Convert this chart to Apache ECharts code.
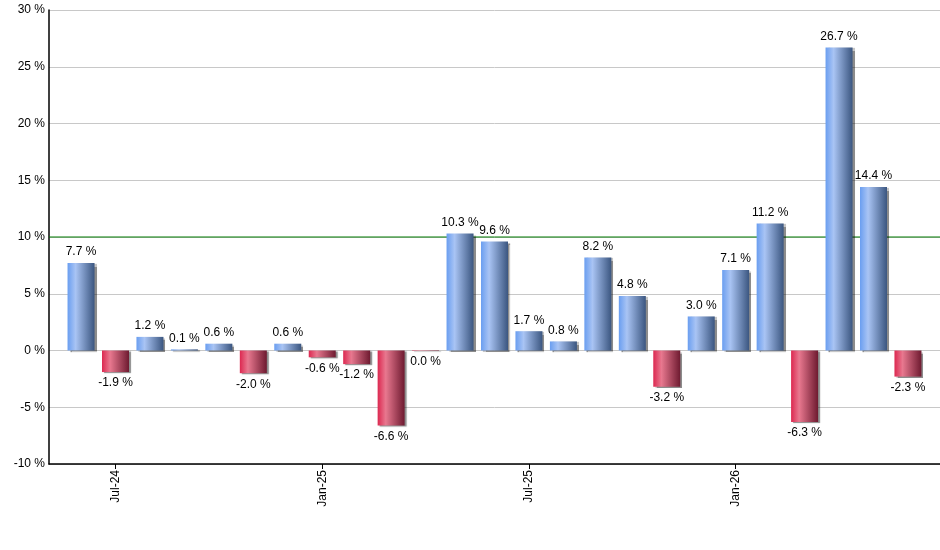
<!DOCTYPE html>
<html lang="en">
<head>
    <meta charset="UTF-8">
    <title>Monthly returns</title>
    <script src="https://cdn.jsdelivr.net/npm/echarts@6/dist/echarts.min.js"></script>
</head>
<body>
<div id="main" style="width: 940px;height:550px;"></div>

<script type="text/javascript">
    // months, first bar is Jun-24
    var months = ['Jun-24', 'Jul-24', 'Aug-24', 'Sep-24', 'Oct-24', 'Nov-24', 'Dec-24', 'Jan-25', 'Feb-25',
        'Mar-25', 'Apr-25', 'May-25', 'Jun-25', 'Jul-25', 'Aug-25', 'Sep-25', 'Oct-25', 'Nov-25', 'Dec-25',
        'Jan-26', 'Feb-26', 'Mar-26', 'Apr-26', 'May-26', 'Jun-26'];
    var returns = [7.7, -1.9, 1.2, 0.1, 0.6, -2.0, 0.6, -0.6, -1.2, -6.6, -0.04, 10.3, 9.6, 1.7, 0.8, 8.2,
        4.8, -3.2, 3.0, 7.1, 11.2, -6.3, 26.7, 14.4, -2.3];
    var labelIdx = [1, 7, 13, 19];
    var refLine = 10;

    var blue = new echarts.graphic.LinearGradient(0, 0, 1, 0, [
        {offset: 0, color: '#6a9ef0'},
        {offset: 0.3, color: '#a9c4f4'},
        {offset: 1, color: '#3b5680'}
    ]);
    var red = new echarts.graphic.LinearGradient(0, 0, 1, 0, [
        {offset: 0, color: '#dc2850'},
        {offset: 0.3, color: '#e8788f'},
        {offset: 1, color: '#6e1a30'}
    ]);

    var data = returns.map(function (v, i) {
        return {
            value: [i, v],
            itemStyle: {color: v < 0 ? red : blue},
            label: {position: v < 0 ? 'bottom' : 'top'}
        };
    });

    var myChart = echarts.init(document.getElementById('main'));
    var option = {
        animation: false,
        textStyle: {fontFamily: 'Liberation Sans, Arial, sans-serif'},
        grid: {left: 49, right: 0, top: 10, bottom: 86},
        xAxis: {
            type: 'value',
            min: -0.93,
            max: 24.93,
            splitLine: {show: false},
            axisLine: {onZero: false, lineStyle: {color: '#000', width: 1.5}},
            axisTick: {show: true, length: 5, customValues: labelIdx, lineStyle: {color: '#000'}},
            axisLabel: {
                customValues: labelIdx,
                rotate: 90,
                color: '#000',
                fontSize: 12,
                margin: 6,
                formatter: function (v) {
                    return months[Math.round(v)];
                }
            }
        },
        yAxis: {
            type: 'value',
            min: -10,
            max: 30,
            interval: 5,
            axisLine: {show: true, onZero: false, lineStyle: {color: '#000', width: 1.5}},
            axisTick: {show: false},
            axisLabel: {color: '#000', fontSize: 12, margin: 4, formatter: '{value} %'},
            splitLine: {lineStyle: {color: '#c8c8c8'}}
        },
        series: [
            {
                type: 'bar',
                barWidth: 27,
                z: 3,
                data: data,
                itemStyle: {
                    shadowColor: 'rgba(0,0,0,0.45)',
                    shadowOffsetX: 2,
                    shadowOffsetY: 1,
                    shadowBlur: 1
                },
                label: {
                    show: true,
                    color: '#000',
                    fontSize: 12,
                    distance: 5,
                    formatter: function (p) {
                        var s = p.value[1].toFixed(1);
                        if (s === '-0.0') s = '0.0';
                        return s + ' %';
                    }
                }
            },
            {
                // green reference line at 10 %, behind the bars
                type: 'line',
                data: [[-0.93, refLine], [24.93, refLine]],
                silent: true,
                symbol: 'none',
                z: 1,
                lineStyle: {color: '#007a00', width: 1},
                itemStyle: {color: '#007a00'}
            }
        ]
    };
    myChart.setOption(option);
</script>
</body>
<style type="text/css">
    * {
        margin: 0;
        padding: 0;
    }
</style>
</html>
